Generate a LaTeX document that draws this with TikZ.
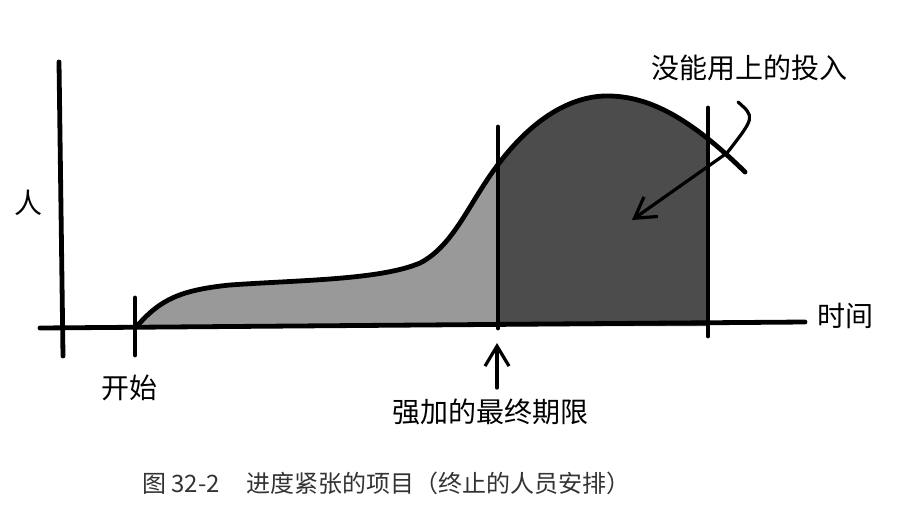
\documentclass[tikz,border=0pt]{standalone}
\usepackage{fontspec}
\newfontfamily\cjk{Noto Sans CJK SC}
\usetikzlibrary{arrows.meta}
\definecolor{early}{gray}{.6}
\definecolor{wasted}{gray}{.3}

\tikzset{
  ink/.style={line width=4.8pt, line cap=round, line join=round},
  thin ink/.style={line width=3.2pt, line cap=round, line join=round},
  hand/.style={font=\cjk\fontsize{28}{28}\selectfont, inner sep=0pt},
  barb/.style={-{Straight Barb[length=20pt,width=24pt]}}
}

\begin{document}
\begin{tikzpicture}[x=1pt, y=-1pt]
\useasboundingbox (0,0) rectangle (902,506);

% staffing curve
\coordinate (w0) at (138,325);
\coordinate (w1) at (230,285);
\coordinate (w2) at (420,263);
\coordinate (w3) at (500,162);
\coordinate (w4) at (610,96);
\coordinate (w5) at (745,172);
\def\staffing{(w0) .. controls (160,300) and (180,290) .. (w1)
  .. controls (300,280) and (380,280) .. (w2)
  .. controls (455,245) and (470,200) .. (w3)
  .. controls (540,110) and (580,95) .. (w4)
  .. controls (650,97) and (690,118) .. (w5)}

\begin{scope}
\clip (136,0) rectangle (498,330);
\fill [early] \staffing -- (745,326) -- (138,326) -- cycle;
\end{scope}
\begin{scope}
\clip (498,0) rectangle (708,330);
\fill [wasted] \staffing -- (745,326) -- (138,326) -- cycle;
\end{scope}

\draw [ink] \staffing;

% axes and ticks
\coordinate (xo) at (40,328);
\coordinate (xe) at (805,322);
\coordinate (yt) at (59,62);
\coordinate (yb) at (63,356);
\draw [ink] (xo) -- (xe);
\draw [ink] (yt) -- (yb);

\coordinate (s1) at (135,298);
\coordinate (s2) at (135,355);
\coordinate (d1) at (498,127);
\coordinate (d2) at (498,328);
\coordinate (e1) at (708,108);
\coordinate (e2) at (708,336);
\draw [ink] (s1) -- (s2);
\draw [ink] (d1) -- (d2);
\draw [ink] (e1) -- (e2);

% labels
\node [hand] (people) at (28,203) {人};
\node [hand] (time) at (845,316) {时间};
\node [hand] (start) at (129,388) {开始};
\node [hand] (deadline) at (490,412) {强加的最终期限};
\node [hand] (unused) at (749,68) {没能用上的投入};

% pointers
\coordinate (da) at (497,388);
\coordinate (db) at (497,343);
\draw [thin ink, barb] (da) -- (db);

\coordinate (ua) at (738,102);
\coordinate (ub) at (727,153);
\coordinate (uc) at (632,220);
\draw [thin ink, barb] (ua) .. controls (755,117) .. (ub) -- (uc);

% caption
\node [font=\cjk\fontsize{24}{24}\selectfont, text=black!80, anchor=west, inner sep=0pt] (caption) at (142,483)
  {图 32-2\hspace{27pt}进度紧张的项目（终止的人员安排）};
\end{tikzpicture}
\end{document}
